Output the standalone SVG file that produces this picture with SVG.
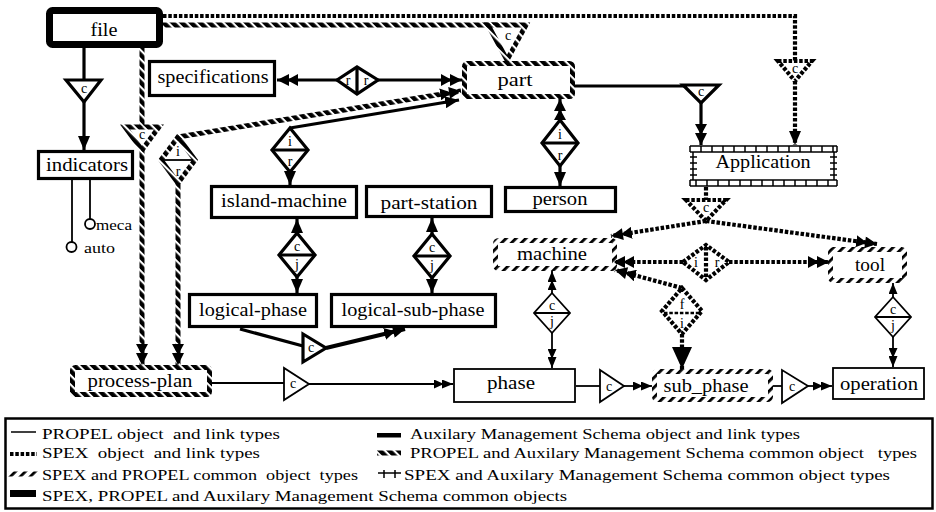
<svg xmlns="http://www.w3.org/2000/svg" width="936" height="512" viewBox="0 0 936 512">
<defs>
  <!-- thick striped line: PROPEL + Auxilary Management Schema common -->
  <pattern id="hatchA" width="6.5" height="6.5" patternUnits="userSpaceOnUse" patternTransform="rotate(-45)">
    <rect width="4.4" height="6.5" fill="#000"/>
  </pattern>
  <!-- slashed line: SPEX + PROPEL common -->
  <pattern id="hatchB" width="7" height="7" patternUnits="userSpaceOnUse" patternTransform="rotate(45)">
    <rect width="2.8" height="7" fill="#000"/>
  </pattern>
  <marker id="s1" markerUnits="userSpaceOnUse" markerWidth="11" markerHeight="9" viewBox="0 0 11 9" refX="11" refY="4.5" orient="auto-start-reverse">
    <path d="M0,0 L11,4.5 L0,9 z"/>
  </marker>
  <marker id="s2" markerUnits="userSpaceOnUse" markerWidth="19" markerHeight="9" viewBox="0 0 19 9" refX="19" refY="4.5" orient="auto-start-reverse">
    <path d="M0,0 L10,4.5 L0,9 z M8,0 L19,4.5 L8,9 z"/>
  </marker>
  <marker id="t1" markerUnits="userSpaceOnUse" markerWidth="14" markerHeight="12" viewBox="0 0 14 12" refX="14" refY="6" orient="auto-start-reverse">
    <path d="M0,0 L14,6 L0,12 z"/>
  </marker>
  <marker id="t2" markerUnits="userSpaceOnUse" markerWidth="21" markerHeight="12" viewBox="0 0 21 12" refX="21" refY="6" orient="auto-start-reverse">
    <path d="M0,0 L11,6 L0,12 z M9,0 L21,6 L9,12 z"/>
  </marker>
  <marker id="big" markerUnits="userSpaceOnUse" markerWidth="22" markerHeight="20" viewBox="0 0 22 20" refX="22" refY="10" orient="auto-start-reverse">
    <path d="M0,0 L22,10 L0,20 z"/>
  </marker>
  <style>
    .ams{fill:none;stroke:#000;stroke-width:3.2}
    .pro{fill:none;stroke:#000;stroke-width:1.8}
    .spx{fill:none;stroke:#000;stroke-width:4.2;stroke-dasharray:3.5 1.8}
    .hA{fill:none;stroke:url(#hatchA);stroke-width:5}
    .hB{fill:none;stroke:url(#hatchB);stroke-width:5}
    .w{fill:#fff}
    .lbl{font-family:"Liberation Serif","DejaVu Serif",serif;font-size:18px;text-anchor:middle;fill:#000}
    .sm{font-family:"Liberation Serif","DejaVu Serif",serif;font-size:14px;text-anchor:middle;fill:#000}
    .att{font-family:"Liberation Serif","DejaVu Serif",serif;font-size:15px;fill:#000}
    .lg{font-family:"Liberation Serif","DejaVu Serif",serif;font-size:15px;fill:#000;white-space:pre}
  </style>
</defs>
<rect width="936" height="512" fill="#fff"/>

<g id="connectors">
  <!-- file to indicators -->
  <path class="ams" d="M84,48 V80"/>
  <polygon class="ams w" points="66,80 101,80 84,102"/>
  <text class="sm" x="84" y="93">c</text>
  <path class="ams" d="M84,102 V150" marker-end="url(#t1)"/>

  <!-- file to Application (SPEX) -->
  <path class="spx" d="M163,16 H795 V61"/>
  <polygon class="spx w" points="778,61 812,61 795,81"/>
  <text class="sm" x="795" y="73">c</text>
  <path class="spx" d="M795,81 V145" marker-end="url(#t1)"/>

  <!-- file to part -->
  <path class="hA" d="M163,25 H500"/>
  <polygon class="hA w" points="488,25 526,25 507,60"/>
  <text class="sm" x="508" y="40">c</text>

  <!-- file to process-plan -->
  <path class="hA" d="M142,48 V127"/>
  <polygon class="hA w" points="125,127 159,127 142,150"/>
  <text class="sm" x="142" y="139">c</text>
  <path class="hA" d="M142,150 V365" marker-end="url(#t2)"/>

  <!-- part to process-plan -->
  <path class="hA" d="M178,137 L461,91" marker-end="url(#t2)"/>
  <path class="hA" d="M178,183 V365" marker-end="url(#t2)"/>
  <polygon class="hA w" points="178,137 195,160 178,183 161,160"/>
  <path class="pro" d="M163,160 H193"/>
  <text class="sm" x="178" y="156">i</text>
  <text class="sm" x="178" y="176">r</text>

  <!-- island-machine to part -->
  <path class="ams" d="M290,128 L459,100" marker-end="url(#t1)"/>
  <path class="ams" d="M290,172 V185" marker-end="url(#t1)"/>
  <polygon class="ams w" points="290,128 308,150 290,172 272,150"/>
  <path class="ams" d="M272,150 H308"/>
  <text class="sm" x="290" y="146">i</text>
  <text class="sm" x="290" y="166">r</text>

  <!-- specifications to part -->
  <path class="ams" d="M337,80 H277" marker-end="url(#t2)"/>
  <path class="ams" d="M378,80 H462" marker-end="url(#t2)"/>
  <polygon class="ams w" points="337,80 357,67 378,80 357,94"/>
  <path class="ams" d="M357,67 V94"/>
  <text class="sm" x="348" y="85">r</text>
  <text class="sm" x="366" y="85">r</text>

  <!-- part to Application -->
  <path class="ams" d="M575,86 H701"/>
  <polygon class="ams w" points="683,85 719,85 701,103"/>
  <text class="sm" x="701" y="96">c</text>
  <path class="ams" d="M701,103 V145" marker-end="url(#t2)"/>

  <!-- part to person -->
  <path class="ams" d="M560,120 V99" marker-end="url(#t2)"/>
  <path class="ams" d="M560,166 V186" marker-end="url(#t1)"/>
  <polygon class="ams w" points="560,120 578,143 560,166 542,143"/>
  <path class="ams" d="M542,143 H578"/>
  <text class="sm" x="560" y="139">i</text>
  <text class="sm" x="560" y="160">r</text>

  <!-- island-machine to logical-phase -->
  <path class="ams" d="M297,233 V219" marker-end="url(#t1)"/>
  <path class="ams" d="M297,277 V293" marker-end="url(#t1)"/>
  <polygon class="ams w" points="297,233 315,255 297,277 279,255"/>
  <path class="ams" d="M279,255 H315"/>
  <text class="sm" x="297" y="251">c</text>
  <text class="sm" x="297" y="269">j</text>

  <!-- part-station to logical-sub-phase -->
  <path class="ams" d="M432,234 V218" marker-end="url(#t1)"/>
  <path class="ams" d="M432,278 V293" marker-end="url(#t1)"/>
  <polygon class="ams w" points="432,234 450,256 432,278 414,256"/>
  <path class="ams" d="M414,256 H450"/>
  <text class="sm" x="432" y="252">c</text>
  <text class="sm" x="432" y="270">j</text>

  <!-- logical-phase to logical-sub-phase -->
  <path class="ams" d="M240,329 L303,346"/>
  <polygon class="ams w" points="303,334 303,362 326,348"/>
  <text class="sm" x="311" y="352">c</text>
  <path class="ams" style="stroke-width:4" d="M326,348 L405,329" marker-end="url(#t2)"/>

  <!-- process-plan to phase -->
  <path class="pro" d="M212,383 H284"/>
  <polygon class="pro w" points="284,368 284,400 309,384"/>
  <text class="sm" x="293" y="388">c</text>
  <path class="pro" d="M309,384 H453" marker-end="url(#s2)"/>

  <!-- machine to phase -->
  <path class="pro" d="M552,293 V271" marker-end="url(#s2)"/>
  <path class="pro" d="M552,333 V368" marker-end="url(#s2)"/>
  <polygon class="pro w" points="552,293 570,313 552,333 534,313"/>
  <path class="pro" d="M534,313 H570"/>
  <text class="sm" x="552" y="310">c</text>
  <text class="sm" x="552" y="326">j</text>

  <!-- phase to sub_phase -->
  <path class="pro" d="M576,386 H600"/>
  <polygon class="pro w" points="600,370 600,402 624,386"/>
  <text class="sm" x="609" y="391">c</text>
  <path class="pro" d="M624,386 H652" marker-end="url(#s2)"/>

  <!-- sub_phase to operation -->
  <path class="pro" d="M773,386 H782"/>
  <polygon class="pro w" points="782,370 782,403 808,386"/>
  <text class="sm" x="792" y="391">c</text>
  <path class="pro" d="M808,386 H832" marker-end="url(#s2)"/>

  <!-- tool to operation -->
  <path class="pro" d="M893,297 V283" marker-end="url(#s1)"/>
  <path class="pro" d="M893,337 V367" marker-end="url(#s2)"/>
  <polygon class="pro w" points="893,297 911,317 893,337 875,317"/>
  <path class="pro" d="M875,317 H911"/>
  <text class="sm" x="893" y="314">c</text>
  <text class="sm" x="893" y="330">j</text>

  <!-- Application to machine / tool (SPEX) -->
  <path class="spx" d="M706,187 V200"/>
  <path class="spx" d="M706,221 L611,236" marker-end="url(#t2)"/>
  <path class="spx" d="M706,221 L877,244" marker-end="url(#t2)"/>
  <polygon class="spx w" points="686,200 726,200 706,221"/>
  <text class="sm" x="706" y="212">c</text>

  <!-- machine to tool (SPEX) -->
  <path class="spx" d="M683,262 H613" marker-end="url(#t2)"/>
  <path class="spx" d="M729,262 H829" marker-end="url(#t2)"/>
  <polygon class="spx w" points="683,262 706,245 729,262 706,280"/>
  <path class="spx" d="M706,247 V278"/>
  <text class="sm" x="696" y="267">i</text>
  <text class="sm" x="717" y="267">r</text>

  <!-- machine to sub_phase (SPEX) -->
  <path class="spx" d="M682,288 L615,270" marker-end="url(#t2)"/>
  <path class="spx" d="M682,334 V369" marker-end="url(#big)"/>
  <polygon class="spx w" points="682,288 702,311 682,334 662,311"/>
  <path class="spx" style="stroke-width:2.5" d="M664,313 H700"/>
  <text class="sm" x="682" y="309">f</text>
  <text class="sm" x="682" y="328">i</text>

  <!-- indicators attributes -->
  <path class="pro" d="M72,180 V242"/>
  <path class="pro" d="M90,180 V219"/>
</g>

<g id="n-file">
  <rect x="49.5" y="10.5" width="110" height="34" rx="3" fill="#fff" stroke="#000" stroke-width="7"/>
  <text class="lbl" x="104" y="36" textLength="27" lengthAdjust="spacingAndGlyphs">file</text>
</g>
<g id="n-specifications">
  <rect class="ams w" x="149.5" y="61.5" width="125" height="34"/>
  <text class="lbl" x="213" y="83" textLength="111" lengthAdjust="spacingAndGlyphs">specifications</text>
</g>
<g id="n-part">
  <rect class="hA w" x="464.5" y="63.5" width="108" height="33" rx="3"/>
  <text class="lbl" x="515" y="86" textLength="35" lengthAdjust="spacingAndGlyphs">part</text>
</g>
<g id="n-indicators">
  <rect class="ams w" x="38.5" y="151.5" width="94" height="27"/>
  <text class="lbl" x="87" y="171" textLength="82" lengthAdjust="spacingAndGlyphs">indicators</text>
  <circle class="pro w" cx="90" cy="224" r="5"/>
  <text class="att" x="96" y="230" textLength="36" lengthAdjust="spacingAndGlyphs">meca</text>
  <circle class="pro w" cx="71.5" cy="247" r="5"/>
  <text class="att" x="84" y="253" textLength="31" lengthAdjust="spacingAndGlyphs">auto</text>
</g>
<g id="n-island-machine">
  <rect class="ams w" x="211.5" y="186.5" width="145" height="31"/>
  <text class="lbl" x="284" y="207" textLength="126" lengthAdjust="spacingAndGlyphs">island-machine</text>
</g>
<g id="n-part-station">
  <rect class="ams w" x="366.5" y="186.5" width="125" height="30"/>
  <text class="lbl" x="429" y="209" textLength="97" lengthAdjust="spacingAndGlyphs">part-station</text>
</g>
<g id="n-person">
  <rect class="ams w" x="505.5" y="187.5" width="110" height="24"/>
  <text class="lbl" x="560" y="205" textLength="55" lengthAdjust="spacingAndGlyphs">person</text>
</g>
<g id="n-application">
  <rect x="690" y="146" width="147" height="40" fill="#fff"/>
  <path fill="none" stroke="#000" stroke-width="1.5" d="M690,146 H837 M690,152 H837 M690,146 V152 M701,146 V152 M712,146 V152 M723,146 V152 M734,146 V152 M745,146 V152 M756,146 V152 M767,146 V152 M778,146 V152 M789,146 V152 M800,146 V152 M811,146 V152 M822,146 V152 M833,146 V152 M837,146 V152 M690,180 H837 M690,186 H837 M690,180 V186 M696,180 V186 M707,180 V186 M718,180 V186 M729,180 V186 M740,180 V186 M751,180 V186 M762,180 V186 M773,180 V186 M784,180 V186 M795,180 V186 M806,180 V186 M817,180 V186 M828,180 V186 M837,180 V186 M693,152 V180 M690,157 H697 M690,163 H697 M690,169 H697 M690,175 H697 M834,152 V180 M830,157 H837 M830,163 H837 M830,169 H837 M830,175 H837"/>
  <text class="lbl" x="763" y="168" textLength="95" lengthAdjust="spacingAndGlyphs">Application</text>
</g>
<g id="n-machine">
  <rect class="hB w" x="495.5" y="240.5" width="119" height="28" rx="3"/>
  <text class="lbl" x="552" y="260" textLength="70" lengthAdjust="spacingAndGlyphs">machine</text>
</g>
<g id="n-tool">
  <rect class="hB w" x="830.5" y="249.5" width="74" height="31" rx="3"/>
  <text class="lbl" x="870" y="271" textLength="30" lengthAdjust="spacingAndGlyphs">tool</text>
</g>
<g id="n-logical-phase">
  <rect class="ams w" x="189.5" y="294.5" width="127" height="32"/>
  <text class="lbl" x="253" y="316" textLength="108" lengthAdjust="spacingAndGlyphs">logical-phase</text>
</g>
<g id="n-logical-sub-phase">
  <rect class="ams w" x="331.5" y="294.5" width="164" height="32"/>
  <text class="lbl" x="413" y="316" textLength="143" lengthAdjust="spacingAndGlyphs">logical-sub-phase</text>
</g>
<g id="n-process-plan">
  <rect class="hA w" x="72.5" y="367.5" width="137" height="27" rx="3"/>
  <text class="lbl" x="140" y="387" textLength="105" lengthAdjust="spacingAndGlyphs">process-plan</text>
</g>
<g id="n-phase">
  <rect class="pro w" x="454" y="369" width="121" height="33"/>
  <text class="lbl" x="511" y="389" textLength="48" lengthAdjust="spacingAndGlyphs">phase</text>
</g>
<g id="n-sub-phase">
  <rect class="hB w" x="654.5" y="371.5" width="116" height="28" rx="3"/>
  <text class="lbl" x="706" y="392" textLength="85" lengthAdjust="spacingAndGlyphs">sub_phase</text>
</g>
<g id="n-operation">
  <rect class="pro w" x="833" y="368" width="91" height="31"/>
  <text class="lbl" x="879" y="390" textLength="78" lengthAdjust="spacingAndGlyphs">operation</text>
</g>

<g id="legend">
  <rect x="5.5" y="418.5" width="927" height="90" fill="none" stroke="#000" stroke-width="2.5"/>
  <path d="M11,432 H36" stroke="#000" stroke-width="1.5"/>
  <text class="lg" x="42" y="439" textLength="238" lengthAdjust="spacingAndGlyphs">PROPEL object  and link types</text>
  <path class="spx" style="stroke-width:4" d="M10,454 H37"/>
  <text class="lg" x="42" y="458" textLength="218" lengthAdjust="spacingAndGlyphs">SPEX  object  and link types</text>
  <path class="hB" d="M8,474 H38"/>
  <text class="lg" x="42" y="480" textLength="316" lengthAdjust="spacingAndGlyphs">SPEX and PROPEL common  object  types</text>
  <rect x="10" y="490" width="26" height="7" fill="#000"/>
  <text class="lg" x="42" y="501" textLength="525" lengthAdjust="spacingAndGlyphs">SPEX, PROPEL and Auxilary Management Schema common objects</text>

  <rect x="377" y="433" width="24" height="4.5" fill="#000"/>
  <text class="lg" x="410" y="439" textLength="390" lengthAdjust="spacingAndGlyphs">Auxilary Management Schema object and link types</text>
  <path class="hA" d="M377,453 H401"/>
  <text class="lg" x="410" y="458" textLength="507" lengthAdjust="spacingAndGlyphs">PROPEL and Auxilary Management Schema common object   types</text>
  <path d="M378,473 H401 M384,470 V478 M395,470 V478" fill="none" stroke="#000" stroke-width="1.5"/>
  <text class="lg" x="404" y="480" textLength="486" lengthAdjust="spacingAndGlyphs">SPEX and Auxilary Management Schema common object types</text>
</g>
</svg>
